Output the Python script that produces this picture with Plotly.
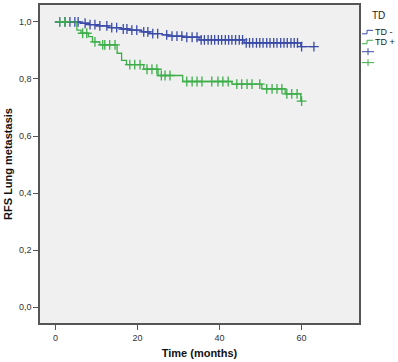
import plotly.graph_objects as go
import numpy as np

# ---- data ----
group_names = ["TD -", "TD +"]
legend_title = "TD"

blue_event_t = [0, 6, 8, 10, 13, 16, 18, 21, 23, 26, 27.5, 31, 35, 46, 59.8]
blue_event_s = [1.0, 0.995, 0.99, 0.986, 0.98, 0.975, 0.971, 0.965, 0.959, 0.954, 0.95, 0.946, 0.937, 0.926, 0.913]
blue_end_t = 63
blue_censor_t = [1.0, 2.3, 3.5, 4.7, 5.5, 7.2, 8.4, 9.6, 10.8, 12.5, 13.7, 14.9, 16.5, 17.4,
                 18.6, 19.8, 21.5, 22.5, 23.7, 24.9, 27.1, 28.4, 29.6, 30.8, 32.0, 33.3, 34.5,
                 35.5, 36.3, 37.2, 38.0, 38.8, 39.7, 40.5, 41.4, 42.2, 43.0, 43.9, 44.8, 45.6,
                 46.5, 47.3, 48.1, 49.0, 49.8, 50.6, 51.5, 52.3, 53.2, 54.0, 54.9, 55.7, 56.5,
                 57.4, 58.2, 59.0, 60.0, 63.0]

green_event_t = [0.5, 5.2, 6.2, 8.0, 9.0, 10.8, 15.0, 16.1, 17.3, 21.5, 25.0, 31.0, 43.0, 50.3, 56.0, 59.8]
green_event_s = [1.0, 0.971, 0.96, 0.948, 0.93, 0.919, 0.89, 0.865, 0.85, 0.834, 0.812, 0.791, 0.782, 0.765, 0.748, 0.722]
green_end_t = 60
green_censor_t = [1.0, 2.3, 6.6, 7.6, 9.6, 11.5, 12.0, 13.2, 14.5, 18.1, 19.3, 20.6, 22.3, 23.5,
                  24.7, 25.8, 26.7, 27.9, 32.0, 33.3, 34.5, 35.7, 38.1, 39.6, 40.8, 42.1, 44.2,
                  45.4, 46.7, 47.9, 49.8, 51.5, 52.8, 54.0, 55.2, 56.4, 57.6, 58.9, 60.0]

x_ticks = [0, 20, 40, 60]
y_ticks = [0.0, 0.2, 0.4, 0.6, 0.8, 1.0]

blue = "#3A4BA8"
green = "#3DAE4A"


def surv_at(times, ev_t, ev_s):
    ev_t = np.array(ev_t)
    ev_s = np.array(ev_s)
    out = []
    for t in times:
        idx = np.searchsorted(ev_t, t, side="right") - 1
        out.append(ev_s[max(idx, 0)])
    return out


fig = go.Figure()

for ev_t, ev_s, end_t, cens, col, name in [
    (blue_event_t, blue_event_s, blue_end_t, blue_censor_t, blue, group_names[0]),
    (green_event_t, green_event_s, green_end_t, green_censor_t, green, group_names[1]),
]:
    fig.add_trace(go.Scatter(
        x=list(ev_t) + [end_t], y=list(ev_s) + [ev_s[-1]],
        mode="lines", line=dict(color=col, width=1.3, shape="hv"),
        name=name, showlegend=False, hoverinfo="skip"))
    fig.add_trace(go.Scatter(
        x=cens, y=surv_at(cens, ev_t, ev_s), mode="markers",
        marker=dict(symbol="cross-thin", size=7, line=dict(color=col, width=1.3)),
        name=name + " censored", showlegend=False))

# plot area in pixels: x 40..359, y 3..323
W, H = 398, 362
L, R, T, B = 40, 39, 3, 39
pw, ph = W - L - R, H - T - B


def px(x):
    return (x - L) / pw


def py(y):
    return (H - B - y) / ph


font_fam = "Liberation Sans, Arial"
annotations = [
    dict(text=legend_title, x=px(378), y=py(14), xref="paper", yref="paper",
         showarrow=False, font=dict(size=10, color="#222", family=font_fam),
         xanchor="center", yanchor="middle"),
]
shapes = []
for i, (col, name) in enumerate([(blue, group_names[0]), (green, group_names[1])]):
    yc = 30 + 10 * i
    path = f"M {px(362)} {py(yc+2)} L {px(367)} {py(yc+2)} L {px(367)} {py(yc-1.5)} L {px(373)} {py(yc-1.5)}"
    shapes.append(dict(type="path", path=path, xref="paper", yref="paper",
                       line=dict(color=col, width=1)))
    annotations.append(dict(text=name, x=px(373), y=py(yc), xref="paper", yref="paper",
                            showarrow=False, xanchor="left", yanchor="middle",
                            font=dict(size=9, color="#222", family=font_fam)))
for i, col in enumerate([blue, green]):
    yc = 50 + 11 * i
    shapes.append(dict(type="line", x0=px(362), x1=px(374), y0=py(yc), y1=py(yc),
                       xref="paper", yref="paper", line=dict(color=col, width=1)))
    shapes.append(dict(type="line", x0=px(368), x1=px(368), y0=py(yc - 3.5), y1=py(yc + 3.5),
                       xref="paper", yref="paper", line=dict(color=col, width=1)))

axis_common = dict(showline=True, linecolor="#555", linewidth=1.5, mirror=True,
                   ticks="outside", ticklen=5, tickcolor="#555", showgrid=False, zeroline=False,
                   tickfont=dict(size=9, color="#333", family=font_fam))

fig.update_layout(
    width=W, height=H,
    margin=dict(l=L, r=R, t=T, b=B),
    paper_bgcolor="white", plot_bgcolor="#F0F0F0",
    separators=",.",
    showlegend=False,
    xaxis=dict(range=[-3.8, 74], tickvals=x_ticks,
               title=dict(text="<b>Time (months)</b>", standoff=8,
                          font=dict(size=11, color="#111", family=font_fam)),
               **axis_common),
    yaxis=dict(range=[-0.055, 1.059], tickvals=y_ticks, tickformat=".1f",
               title=dict(text="<b>RFS Lung metastasis</b>", standoff=4,
                          font=dict(size=11, color="#111", family=font_fam)),
               **axis_common),
    annotations=annotations,
    shapes=shapes,
)

fig.write_html("out.html",
               config={"displayModeBar": False},
               post_script="document.body.style.margin='0';document.body.style.overflow='hidden';")
